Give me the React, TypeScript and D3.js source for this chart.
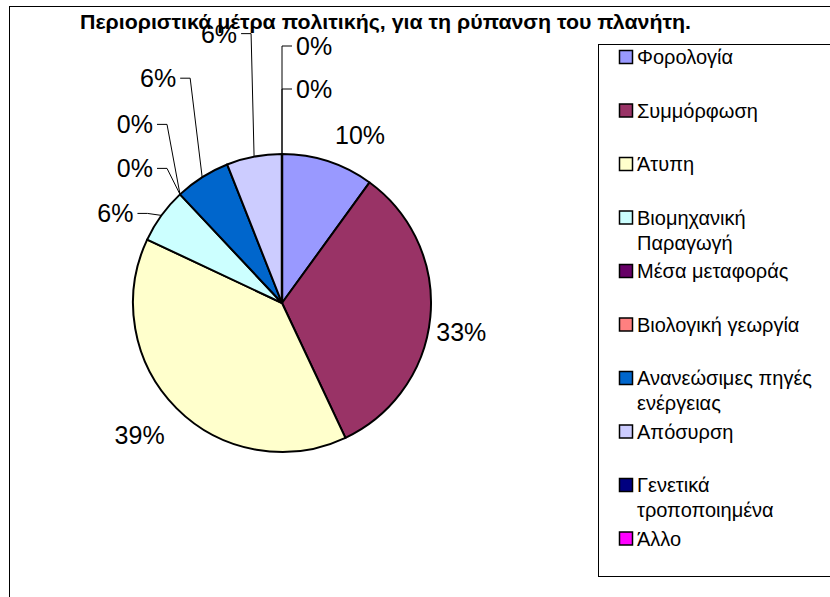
import * as d3 from 'd3';

const title = 'Περιοριστικά μέτρα πολιτικής, για τη ρύπανση του πλανήτη.';

// slice names, as in the legend (two-line names split with \n)
const categories = [
  'Φορολογία',
  'Συμμόρφωση',
  'Άτυπη',
  'Βιομηχανική\nΠαραγωγή',
  'Μέσα μεταφοράς',
  'Βιολογική γεωργία',
  'Ανανεώσιμες πηγές\nενέργειας',
  'Απόσυρση',
  'Γενετικά\nτροποποιημένα',
  'Άλλο',
];

// share of answers, in percent, as labelled on the slices
const values = [10, 33, 39, 6, 0, 0, 6, 6, 0, 0];

// excel's default pie palette
const colors = ['#9999FF', '#993366', '#FFFFCC', '#CCFFFF', '#660066', '#FF8080', '#0066CC', '#CCCCFF', '#000080', '#FF00FF'];

const W = 830;
const H = 597;
const cx = 282;
const cy = 303;
const R = 149;

// where each % label sits, relative to the point on the rim at the slice's mid angle.
// leader: true -> (dx,dy) is the elbow of the leader line, side tells where the text goes
const labelPlace = [
  {dx: 32, dy: -26, leader: false, side: 0},
  {dx: 31, dy: 15, leader: false, side: 0},
  {dx: -37, dy: 27, leader: false, side: 0},
  {dx: -14, dy: -2, leader: true, side: -1},
  {dx: -13, dy: -26, leader: true, side: -1},
  {dx: -13, dy: -70, leader: true, side: -1},
  {dx: -12, dy: -99, leader: true, side: -1},
  {dx: -3, dy: -123, leader: true, side: -1},
  {dx: 0, dy: -65, leader: true, side: 1},
  {dx: 0, dy: -108, leader: true, side: 1},
];

const labelFont = "'Liberation Sans', Arial, sans-serif";

export default function App() {
  const total = d3.sum(values);
  const pie = d3.pie<number>().sort(null).value(d => d);
  const arcs = pie(values);
  const arc = d3.arc<d3.PieArcDatum<number>>().innerRadius(0).outerRadius(R);

  const legendTop = 57;
  const legendStep = 53.5;

  return (
    <svg width={W} height={H} style={{position: 'fixed', left: 0, top: 0, background: '#fff'}}>
      {/* chart area frame */}
      <rect x={9.5} y={6.5} width={W + 20} height={H + 20} fill="#fff" stroke="#000" strokeWidth={1} />

      <g transform={`translate(${cx},${cy})`}>
        {arcs.map((a, i) => (
          a.value > 0 ? (
            <path key={i} d={arc(a) || ''} fill={colors[i]} stroke="#000" strokeWidth={2} strokeLinejoin="round" />
          ) : null
        ))}
        <line x1={0} y1={0} x2={0} y2={-R} stroke="#000" strokeWidth={2.5} />
      </g>

      {/* percentage labels */}
      <g fontFamily={labelFont} fontSize={25} fill="#000">
        {arcs.map((a, i) => {
          const mid = (a.startAngle + a.endAngle) / 2;
          const px = cx + R * Math.sin(mid);
          const py = cy - R * Math.cos(mid);
          const p = labelPlace[i];
          const txt = `${Math.round((a.value / total) * 100)}%`;
          if (!p.leader) {
            return (
              <text key={i} x={px + p.dx} y={py + p.dy} textAnchor="middle" dy="0.36em">{txt}</text>
            );
          }
          const ex = px + p.dx;
          const ey = py + p.dy;
          const tx = ex + p.side * 10;
          return (
            <g key={i}>
              <polyline points={`${px},${py} ${ex},${ey} ${tx},${ey}`} fill="none" stroke="#000" strokeWidth={1} />
              <text x={tx + p.side * 4} y={ey} textAnchor={p.side < 0 ? 'end' : 'start'} dy="0.36em">{txt}</text>
            </g>
          );
        })}
      </g>

      <text x={385.5} y={29} textAnchor="middle" fontFamily={labelFont} fontWeight="bold" fontSize={21}
        textLength={611} lengthAdjust="spacingAndGlyphs">{title}</text>

      {/* legend */}
      <rect x={598.5} y={44.5} width={260} height={532} fill="#fff" stroke="#000" strokeWidth={1} />
      <g fontFamily={labelFont} fontSize={20}>
        {categories.map((c, i) => {
          const y = legendTop + i * legendStep;
          const lines = c.split('\n');
          return (
            <g key={i}>
              <rect x={619.5} y={y - 6.5} width={13} height={13} fill={colors[i]} stroke="#000" strokeWidth={1.5} />
              {lines.map((l, j) => (
                <text key={j} x={637} y={y + j * 25} dy="0.36em">{l}</text>
              ))}
            </g>
          );
        })}
      </g>
    </svg>
  );
}
